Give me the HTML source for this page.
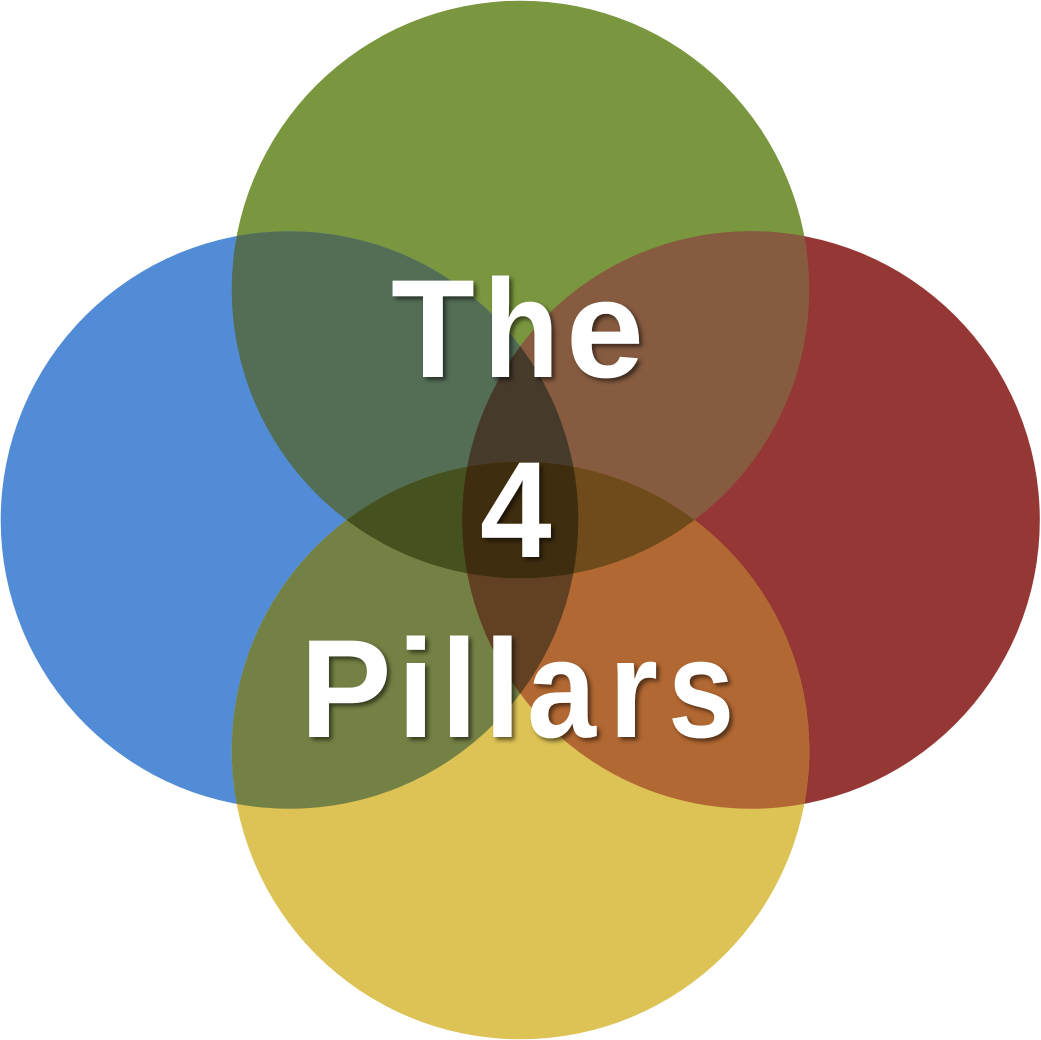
<!DOCTYPE html>
<html>
<head>
<meta charset="utf-8">
<style>
html,body{margin:0;padding:0;background:#fff;width:1041px;height:1040px;overflow:hidden}
svg{display:block}
text{font-family:"Liberation Sans",Arial,sans-serif;font-weight:700;font-size:140px;fill:#fff}
</style>
</head>
<body>
<svg width="1041" height="1040" viewBox="0 0 1041 1040" xmlns="http://www.w3.org/2000/svg">
<defs>
<clipPath id="t"><circle cx="520.5" cy="289.5" r="288.8"/></clipPath>
<clipPath id="l"><circle cx="289.5" cy="520" r="288.8"/></clipPath>
<clipPath id="r"><circle cx="751" cy="520" r="288.8"/></clipPath>
<clipPath id="b"><circle cx="520.5" cy="750.5" r="288.8"/></clipPath>
<filter id="s" x="-10%" y="-10%" width="120%" height="120%">
<feDropShadow dx="3" dy="3" stdDeviation="2" flood-color="#000" flood-opacity="0.55"/>
</filter>
</defs>
<circle cx="520.5" cy="289.5" r="288.8" fill="#7a963e"/>
<circle cx="289.5" cy="520" r="288.8" fill="#528cd6"/>
<circle cx="751" cy="520" r="288.8" fill="#953735"/>
<circle cx="520.5" cy="750.5" r="288.8" fill="#ddc255"/>
<!-- pairs -->
<g clip-path="url(#t)"><circle cx="289.5" cy="520" r="288.8" fill="#546e56"/></g>
<g clip-path="url(#t)"><circle cx="751" cy="520" r="288.8" fill="#865b40"/></g>
<g clip-path="url(#b)"><circle cx="289.5" cy="520" r="288.8" fill="#748145"/></g>
<g clip-path="url(#b)"><circle cx="751" cy="520" r="288.8" fill="#b26832"/></g>
<!-- triples -->
<g clip-path="url(#l)"><g clip-path="url(#r)"><circle cx="520.5" cy="289.5" r="288.8" fill="#463a2b"/></g></g>
<g clip-path="url(#l)"><g clip-path="url(#r)"><circle cx="520.5" cy="750.5" r="288.8" fill="#614023"/></g></g>
<g clip-path="url(#t)"><g clip-path="url(#b)"><circle cx="289.5" cy="520" r="288.8" fill="#45511e"/></g></g>
<g clip-path="url(#t)"><g clip-path="url(#b)"><circle cx="751" cy="520" r="288.8" fill="#6f4a1a"/></g></g>
<!-- centre -->
<g clip-path="url(#l)"><g clip-path="url(#r)"><g clip-path="url(#t)"><circle cx="520.5" cy="750.5" r="288.8" fill="#3f2d10"/></g></g></g>
<g filter="url(#s)">
<text transform="translate(391 377) scale(.98 1)">T</text>
<text transform="translate(483.4 377) scale(.885 1)">h</text>
<text transform="translate(566 377)">e</text>
<text transform="translate(480 557) scale(.92 .98)">4</text>
<text transform="translate(300 737) scale(.98 1)">P</text>
<text transform="translate(397.4 737) scale(.95 1)">i</text>
<text transform="translate(440.7 737) scale(.95 1)">l</text>
<text transform="translate(484 737) scale(.95 1)">l</text>
<text transform="translate(527 737) scale(.885 1)">a</text>
<text transform="translate(608.9 737) scale(.9 1)">r</text>
<text transform="translate(668 737) scale(.85 1)">s</text>
</g>
</svg>
</body>
</html>
